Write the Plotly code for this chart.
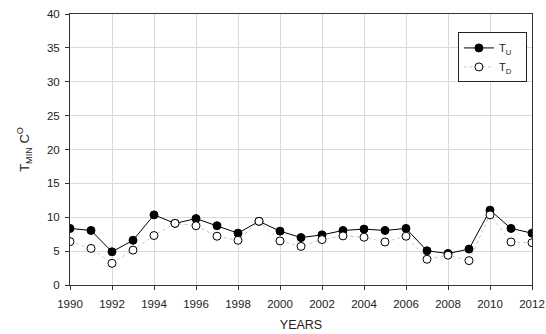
import plotly.graph_objects as go

years = list(range(1990, 2013))
t_u = [8.35, 8.05, 4.9, 6.6, 10.35, 9.1, 9.8, 8.75, 7.65, 9.4, 7.95, 7.0,
       7.4, 8.05, 8.25, 8.05, 8.35, 5.05, 4.65, 5.3, 11.05, 8.35, 7.65]
t_d = [6.4, 5.4, 3.2, 5.15, 7.3, 9.1, 8.75, 7.2, 6.6, 9.4, 6.5, 5.7,
       6.7, 7.25, 7.05, 6.35, 7.2, 3.8, 4.4, 3.6, 10.35, 6.35, 6.25]

x_ticks = list(range(1990, 2013, 2))
y_ticks = list(range(0, 41, 5))

fig = go.Figure()
fig.add_trace(go.Scatter(
    x=years, y=t_u, mode="lines+markers", name="T<sub>U</sub>\u00a0\u00a0\u00a0",
    line=dict(color="black", width=1),
    marker=dict(symbol="circle", size=8, color="black", line=dict(color="black", width=1)),
))
fig.add_trace(go.Scatter(
    x=years, y=t_d, mode="lines+markers", name="T<sub>D</sub>\u00a0\u00a0\u00a0",
    line=dict(color="#c8c8c8", width=1, dash="dot"),
    marker=dict(symbol="circle", size=8, color="white", line=dict(color="black", width=1)),
))

axis_common = dict(
    showline=True, linecolor="#333333", linewidth=1, mirror=True,
    showgrid=True, gridcolor="#d9d9d9", gridwidth=1,
    ticks="outside", ticklen=4, tickcolor="#333333", automargin=False,
    zeroline=False, tickfont=dict(family="Liberation Sans, Arial", size=11.5, color="#222222"),
)

fig.update_layout(
    width=546, height=334,
    margin=dict(l=70, r=14, t=14, b=49),
    paper_bgcolor="white", plot_bgcolor="white",
    font=dict(family="Liberation Sans, Arial", color="#222222"),
    xaxis=dict(**axis_common, range=[1990, 2012], tickvals=x_ticks, ticklabelstandoff=4,
               title=dict(text="YEARS", font=dict(size=12.5), standoff=11)),
    yaxis=dict(**axis_common, range=[0, 40], tickvals=y_ticks, ticklabelstandoff=3,
               title=dict(text="T<sub>MIN</sub> C<sup>O</sup>", font=dict(size=13), standoff=14)),
    legend=dict(x=0.989, y=0.932, xanchor="right", yanchor="top",
                bordercolor="#222222", borderwidth=1, bgcolor="white",
                font=dict(size=11), itemwidth=30, tracegroupgap=0),
    showlegend=True,
)

fig.write_html("out.html")
